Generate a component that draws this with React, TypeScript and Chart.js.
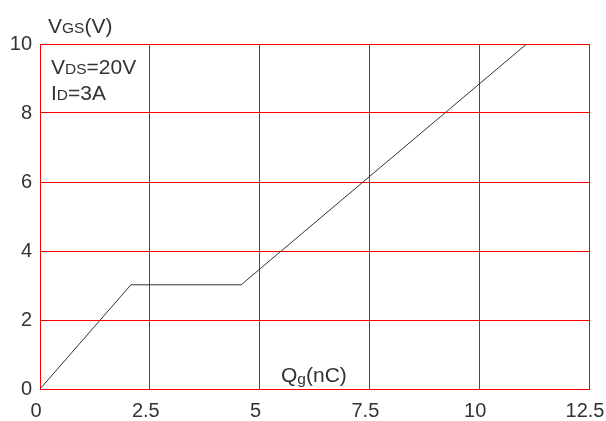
import React, { useEffect, useRef } from "react";
import { Chart, registerables } from "chart.js";

Chart.register(...registerables);

const qgValues = [0, 2.07, 4.58, 11.08];
const vgsValues = [0, 3.02, 3.02, 10];
const xTicks = [0, 2.5, 5, 7.5, 10, 12.5];
const yTicks = [0, 2, 4, 6, 8, 10];
const conditionLines = [
  { main: "V", sub: "DS", rest: "=20V" },
  { main: "I", sub: "D", rest: "=3A" },
];

const FONT = "'Liberation Sans', Arial, sans-serif";
const TEXT = "#333333";

function drawParts(ctx: CanvasRenderingContext2D, x: number, y: number, parts: { t: string; size: number; dy?: number }[]) {
  let cx = x;
  for (const p of parts) {
    ctx.font = `${p.size}px ${FONT}`;
    ctx.fillText(p.t, cx, y + (p.dy || 0));
    cx += ctx.measureText(p.t).width;
  }
}

const labelPlugin = {
  id: "labels",
  afterDraw(chart: any) {
    const ctx = chart.ctx as CanvasRenderingContext2D;
    const a = chart.chartArea;
    ctx.save();
    ctx.fillStyle = TEXT;
    ctx.textBaseline = "alphabetic";
    ctx.textAlign = "left";
    drawParts(ctx, a.left + 8, a.top - 11, [
      { t: "V", size: 21 },
      { t: "GS", size: 15.5 },
      { t: "(V)", size: 21 },
    ]);
    conditionLines.forEach((l, i) => {
      drawParts(ctx, a.left + 11, a.top + 30 + i * 26, [
        { t: l.main, size: 21 },
        { t: l.sub, size: 15.5 },
        { t: l.rest, size: 21 },
      ]);
    });
    drawParts(ctx, 281, a.bottom - 7, [
      { t: "Q", size: 21 },
      { t: "g", size: 15.5, dy: 2 },
      { t: "(nC)", size: 21 },
    ]);
    ctx.restore();
  },
};

export default function App() {
  const ref = useRef<HTMLCanvasElement | null>(null);
  useEffect(() => {
    document.body.style.margin = "0";
    const canvas = ref.current!;
    const chart = new Chart(canvas, {
      type: "scatter",
      data: {
        datasets: [
          {
            data: qgValues.map((q, i) => ({ x: q, y: vgsValues[i] })),
            showLine: true,
            borderColor: "#333333",
            borderWidth: 1,
            pointRadius: 0,
            tension: 0,
          },
        ],
      },
      options: {
        animation: false,
        responsive: false,
        maintainAspectRatio: false,
        events: [],
        layout: { padding: { left: 0, right: 17, top: 44, bottom: 0 } },
        plugins: { legend: { display: false }, tooltip: { enabled: false } },
        scales: {
          x: {
            type: "linear",
            min: 0,
            max: 12.5,
            afterBuildTicks: (s: any) => {
              s.ticks = xTicks.map((v) => ({ value: v }));
            },
            afterFit: (s: any) => {
              s.height = 32;
              s.paddingLeft = 0;
              s.paddingRight = 0;
            },
            grid: { color: "#ff0000", lineWidth: 1, drawTicks: false },
            border: { color: "#ff0000", width: 1 },
            ticks: {
              padding: 10,
              labelOffset: -4,
              color: TEXT,
              font: { family: FONT, size: 20 },
              callback: (v: any) => String(v),
              maxRotation: 0,
            },
          },
          y: {
            type: "linear",
            min: 0,
            max: 10,
            afterBuildTicks: (s: any) => {
              s.ticks = yTicks.map((v) => ({ value: v }));
            },
            afterFit: (s: any) => {
              s.width = 40;
              s.paddingTop = 0;
              s.paddingBottom = 0;
            },
            grid: { color: "#ff0000", lineWidth: 1, drawTicks: false },
            border: { color: "#ff0000", width: 1 },
            ticks: {
              padding: 8,
              color: TEXT,
              font: { family: FONT, size: 20 },
              callback: (v: any) => String(v),
            },
          },
        },
      },
      plugins: [labelPlugin],
    });
    return () => chart.destroy();
  }, []);
  return (
    <div style={{ width: 606, height: 421, background: "#fff" }}>
      <canvas ref={ref} width={606} height={421} style={{ display: "block" }} />
    </div>
  );
}
